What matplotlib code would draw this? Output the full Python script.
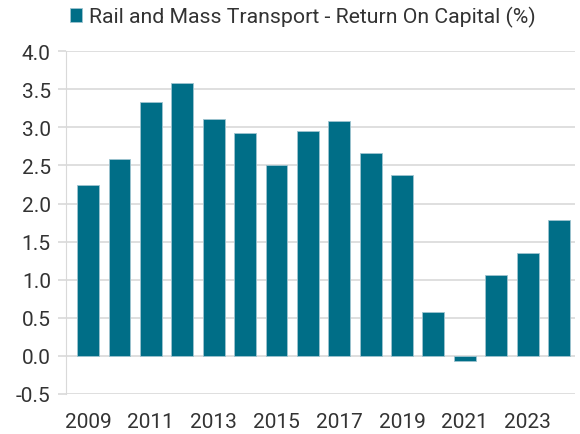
import matplotlib.pyplot as plt
import numpy as np

# Données
years = list(range(2009, 2025))
roc = [2.24, 2.59, 3.33, 3.58, 3.11, 2.93, 2.51, 2.95, 3.09, 2.67, 2.38,
       0.57, -0.07, 1.06, 1.35, 1.78]
yticks = [-0.5, 0.0, 0.5, 1.0, 1.5, 2.0, 2.5, 3.0, 3.5, 4.0]
label = "Rail and Mass Transport - Return On Capital (%)"

plt.rcParams['font.family'] = ['Roboto', 'DejaVu Sans']
bar_color = "#006e87"
text_color = "#333333"
grid_color = "#d9d9d9"

fig = plt.figure(figsize=(5.8, 4.35), dpi=100)
ax = fig.add_axes([0.114, 0.092, 0.877, 0.788])

x = np.arange(len(years))
ax.bar(x, roc, width=0.7, color=bar_color, edgecolor="#9fc4d0",
       linewidth=0.6, label=label, zorder=3)

ax.set_ylim(-0.5, 4.0)
ax.set_xlim(-0.7, 15.5)
ax.set_yticks(yticks)
ax.set_yticklabels([f"{v:.1f}" for v in yticks])
ax.set_xticks(x[::2])
ax.set_xticklabels([str(y) for y in years[::2]])

ax.grid(axis="y", color=grid_color, linewidth=1.2, zorder=0)
for s in ["top", "right", "bottom"]:
    ax.spines[s].set_visible(False)
ax.spines["left"].set_color(grid_color)
ax.tick_params(axis="y", length=6, color=grid_color, width=1.2,
               labelsize=15, labelcolor=text_color, pad=5)
ax.tick_params(axis="x", length=0, labelsize=15, labelcolor=text_color, pad=13)

ax.legend(loc="lower left", bbox_to_anchor=(-0.01, 1.045), frameon=False,
          fontsize=15.3, handlelength=0.6, handleheight=0.6,
          handletextpad=0.3, borderaxespad=0, labelcolor=text_color)

fig.savefig("out.png", dpi=100)
